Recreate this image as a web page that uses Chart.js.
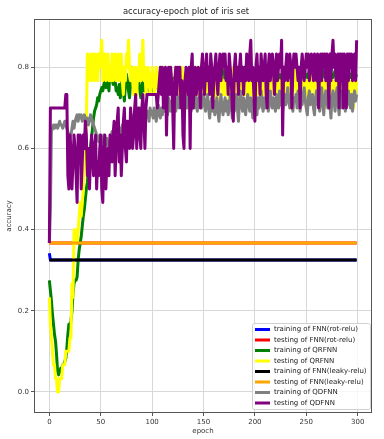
<!DOCTYPE html>
<html>
<head>
<meta charset="utf-8">
<script src="https://cdn.jsdelivr.net/npm/chart.js@4.4.1/dist/chart.umd.min.js"></script>
<style>
html, body { margin: 0; padding: 0; background: #fff; }
#wrap { width: 384px; height: 439px; }
</style>
</head>
<body>
<div id="wrap"><canvas id="accChart" width="384" height="439"></canvas></div>
<script>
const epochs = Array.from({ length: 300 }, (_, i) => i);
const xTicks = [0, 50, 100, 150, 200, 250, 300];
const yTicks = [0.0, 0.2, 0.4, 0.6, 0.8];

// the flat runs only need their break points
const fnnRotTrainEpochs = [0, 1, 299];
const fnnRotTrain = [0.342, 0.325, 0.325];
const fnnRotTestEpochs = [0, 299];
const fnnRotTest = [0.367, 0.367];
const fnnLeakyTrainEpochs = [0, 299];
const fnnLeakyTrain = [0.325, 0.325];
const fnnLeakyTestEpochs = [0, 299];
const fnnLeakyTest = [0.367, 0.367];

const qrfnnTrain = [
  0.275, 0.25, 0.225, 0.192, 0.167, 0.142, 0.125, 0.092, 0.05, 0.042,
  0.05, 0.058, 0.058, 0.067, 0.067, 0.075, 0.083, 0.108, 0.142, 0.167,
  0.158, 0.175, 0.2, 0.242, 0.267, 0.275, 0.275, 0.283, 0.325, 0.35,
  0.367, 0.383, 0.408, 0.433, 0.45, 0.475, 0.5, 0.517, 0.55, 0.583,
  0.6, 0.625, 0.65, 0.675, 0.692, 0.7, 0.708, 0.725, 0.717, 0.733,
  0.742, 0.75, 0.742, 0.758, 0.767, 0.75, 0.775, 0.758, 0.742, 0.792,
  0.8, 0.775, 0.758, 0.783, 0.767, 0.742, 0.75, 0.733, 0.758, 0.725,
  0.75, 0.775, 0.742, 0.717, 0.758, 0.783, 0.767, 0.742, 0.725, 0.758,
  0.8, 0.767, 0.742, 0.775, 0.733, 0.758, 0.792, 0.767, 0.742, 0.725,
  0.75, 0.767, 0.742, 0.758, 0.775, 0.75, 0.767, 0.742, 0.758, 0.775,
  0.758, 0.742, 0.767, 0.775, 0.75, 0.767, 0.783, 0.758, 0.742, 0.767,
  0.775, 0.758, 0.742, 0.767, 0.783, 0.75, 0.767, 0.758, 0.775, 0.742,
  0.758, 0.767, 0.775, 0.75, 0.742, 0.767, 0.783, 0.758, 0.767, 0.775,
  0.75, 0.758, 0.775, 0.767, 0.742, 0.758, 0.783, 0.775, 0.758, 0.767,
  0.775, 0.758, 0.767, 0.783, 0.758, 0.75, 0.775, 0.767, 0.758, 0.783,
  0.775, 0.767, 0.758, 0.783, 0.792, 0.767, 0.758, 0.775, 0.783, 0.767,
  0.758, 0.775, 0.783, 0.767, 0.775, 0.792, 0.767, 0.758, 0.775, 0.783,
  0.792, 0.767, 0.775, 0.758, 0.783, 0.775, 0.767, 0.783, 0.792, 0.775,
  0.767, 0.775, 0.783, 0.767, 0.758, 0.775, 0.783, 0.792, 0.775, 0.767,
  0.783, 0.775, 0.767, 0.792, 0.8, 0.775, 0.767, 0.783, 0.775, 0.767,
  0.775, 0.783, 0.767, 0.758, 0.775, 0.783, 0.775, 0.767, 0.792, 0.775,
  0.767, 0.783, 0.775, 0.758, 0.775, 0.783, 0.767, 0.775, 0.792, 0.775,
  0.783, 0.767, 0.775, 0.783, 0.775, 0.767, 0.783, 0.775, 0.792, 0.783,
  0.775, 0.783, 0.792, 0.783, 0.775, 0.783, 0.792, 0.783, 0.775, 0.783,
  0.792, 0.783, 0.775, 0.783, 0.792, 0.783, 0.775, 0.783, 0.775, 0.783,
  0.783, 0.775, 0.783, 0.792, 0.783, 0.775, 0.783, 0.775, 0.783, 0.792,
  0.783, 0.775, 0.783, 0.775, 0.783, 0.783, 0.792, 0.783, 0.775, 0.783,
  0.783, 0.775, 0.783, 0.792, 0.783, 0.783, 0.775, 0.783, 0.792, 0.783,
  0.775, 0.783, 0.783, 0.792, 0.783, 0.775, 0.783, 0.783, 0.775, 0.783,
  0.783, 0.792, 0.783, 0.775, 0.783, 0.783, 0.792, 0.783, 0.775, 0.783
];

const qrfnnTest = [
  0.233, 0.167, 0.133, 0.1, 0.067, 0.067, 0.033, 0.033, 0.0, 0.0,
  0.033, 0.033, 0.033, 0.067, 0.067, 0.067, 0.1, 0.1, 0.1, 0.1,
  0.133, 0.133, 0.267, 0.233, 0.4, 0.367, 0.4, 0.367, 0.4, 0.433,
  0.467, 0.433, 0.467, 0.5, 0.567, 0.6, 0.667, 0.833, 0.767, 0.8,
  0.833, 0.767, 0.8, 0.833, 0.767, 0.833, 0.8, 0.767, 0.833, 0.8,
  0.833, 0.867, 0.767, 0.8, 0.833, 0.767, 0.8, 0.833, 0.767, 0.8,
  0.767, 0.833, 0.767, 0.8, 0.833, 0.767, 0.8, 0.833, 0.767, 0.8,
  0.833, 0.767, 0.733, 0.8, 0.767, 0.833, 0.8, 0.867, 0.8, 0.767,
  0.8, 0.767, 0.733, 0.8, 0.767, 0.733, 0.8, 0.767, 0.833, 0.767,
  0.8, 0.867, 0.767, 0.8, 0.733, 0.767, 0.8, 0.767, 0.733, 0.767,
  0.8, 0.767, 0.733, 0.767, 0.8, 0.767, 0.733, 0.767, 0.8, 0.767,
  0.733, 0.767, 0.8, 0.767, 0.733, 0.767, 0.733, 0.767, 0.8, 0.767,
  0.733, 0.767, 0.733, 0.8, 0.767, 0.733, 0.767, 0.733, 0.767, 0.8,
  0.767, 0.733, 0.767, 0.733, 0.7, 0.767, 0.733, 0.767, 0.8, 0.733,
  0.767, 0.733, 0.767, 0.8, 0.733, 0.767, 0.733, 0.7, 0.767, 0.733,
  0.767, 0.733, 0.767, 0.733, 0.767, 0.8, 0.733, 0.767, 0.733, 0.767,
  0.733, 0.767, 0.733, 0.7, 0.767, 0.733, 0.767, 0.8, 0.767, 0.733,
  0.767, 0.733, 0.767, 0.733, 0.767, 0.7, 0.767, 0.733, 0.767, 0.8,
  0.733, 0.767, 0.733, 0.767, 0.733, 0.7, 0.767, 0.733, 0.767, 0.733,
  0.767, 0.733, 0.8, 0.767, 0.733, 0.767, 0.733, 0.767, 0.733, 0.7,
  0.767, 0.733, 0.767, 0.733, 0.767, 0.8, 0.767, 0.733, 0.767, 0.733,
  0.767, 0.733, 0.7, 0.767, 0.733, 0.767, 0.733, 0.767, 0.8, 0.767,
  0.733, 0.767, 0.733, 0.7, 0.767, 0.733, 0.767, 0.733, 0.767, 0.733,
  0.767, 0.733, 0.767, 0.733, 0.7, 0.767, 0.767, 0.733, 0.767, 0.8,
  0.767, 0.733, 0.767, 0.7, 0.767, 0.733, 0.767, 0.733, 0.767, 0.733,
  0.7, 0.767, 0.733, 0.767, 0.733, 0.767, 0.8, 0.767, 0.733, 0.767,
  0.733, 0.767, 0.7, 0.767, 0.733, 0.767, 0.733, 0.767, 0.7, 0.767,
  0.733, 0.767, 0.733, 0.767, 0.7, 0.733, 0.767, 0.733, 0.767, 0.733,
  0.767, 0.733, 0.767, 0.7, 0.767, 0.733, 0.767, 0.733, 0.767, 0.7,
  0.767, 0.733, 0.767, 0.733, 0.767, 0.733, 0.7, 0.767, 0.733, 0.767
];

const qdfnnTrain = [
  0.367, 0.45, 0.642, 0.65, 0.658, 0.65, 0.658, 0.658, 0.65, 0.658,
  0.667, 0.658, 0.658, 0.65, 0.658, 0.667, 0.658, 0.65, 0.642, 0.625,
  0.617, 0.633, 0.65, 0.667, 0.65, 0.667, 0.675, 0.683, 0.667, 0.683,
  0.675, 0.683, 0.667, 0.675, 0.683, 0.675, 0.667, 0.675, 0.658, 0.667,
  0.683, 0.675, 0.667, 0.658, 0.65, 0.642, 0.633, 0.625, 0.617, 0.633,
  0.608, 0.625, 0.617, 0.633, 0.617, 0.608, 0.625, 0.617, 0.6, 0.617,
  0.625, 0.642, 0.617, 0.633, 0.65, 0.625, 0.642, 0.617, 0.633, 0.65,
  0.625, 0.658, 0.642, 0.617, 0.65, 0.667, 0.633, 0.658, 0.642, 0.675,
  0.65, 0.667, 0.683, 0.658, 0.675, 0.692, 0.667, 0.683, 0.7, 0.675,
  0.683, 0.667, 0.692, 0.7, 0.675, 0.683, 0.692, 0.667, 0.7, 0.683,
  0.692, 0.675, 0.7, 0.683, 0.667, 0.692, 0.708, 0.683, 0.675, 0.7,
  0.683, 0.708, 0.692, 0.717, 0.7, 0.683, 0.725, 0.708, 0.692, 0.717,
  0.7, 0.725, 0.708, 0.692, 0.733, 0.717, 0.7, 0.725, 0.742, 0.708,
  0.717, 0.692, 0.733, 0.717, 0.7, 0.725, 0.742, 0.708, 0.692, 0.725,
  0.717, 0.7, 0.733, 0.708, 0.692, 0.725, 0.717, 0.742, 0.7, 0.717,
  0.733, 0.708, 0.692, 0.717, 0.733, 0.7, 0.675, 0.708, 0.725, 0.692,
  0.717, 0.683, 0.7, 0.725, 0.692, 0.667, 0.708, 0.733, 0.7, 0.683,
  0.708, 0.725, 0.692, 0.717, 0.683, 0.7, 0.733, 0.708, 0.675, 0.717,
  0.692, 0.708, 0.733, 0.7, 0.667, 0.717, 0.742, 0.708, 0.692, 0.725,
  0.7, 0.683, 0.717, 0.733, 0.708, 0.692, 0.725, 0.7, 0.675, 0.717,
  0.733, 0.708, 0.683, 0.725, 0.7, 0.717, 0.742, 0.708, 0.692, 0.725,
  0.7, 0.717, 0.733, 0.692, 0.708, 0.742, 0.717, 0.7, 0.725, 0.708,
  0.692, 0.733, 0.717, 0.7, 0.742, 0.708, 0.725, 0.692, 0.717, 0.733,
  0.708, 0.725, 0.75, 0.717, 0.7, 0.733, 0.708, 0.692, 0.725, 0.717,
  0.733, 0.7, 0.742, 0.717, 0.692, 0.725, 0.708, 0.733, 0.75, 0.717,
  0.7, 0.683, 0.725, 0.742, 0.708, 0.717, 0.733, 0.7, 0.683, 0.725,
  0.742, 0.708, 0.717, 0.692, 0.733, 0.75, 0.708, 0.683, 0.725, 0.742,
  0.717, 0.7, 0.733, 0.708, 0.675, 0.725, 0.742, 0.717, 0.692, 0.733,
  0.75, 0.708, 0.683, 0.725, 0.742, 0.7, 0.717, 0.733, 0.692, 0.725,
  0.708, 0.742, 0.717, 0.7, 0.733, 0.692, 0.725, 0.742, 0.717, 0.733
];

const qdfnnTest = [
  0.367, 0.7, 0.7, 0.7, 0.7, 0.7, 0.7, 0.7, 0.7, 0.7,
  0.7, 0.7, 0.7, 0.7, 0.7, 0.7, 0.733, 0.733, 0.533, 0.5,
  0.633, 0.6, 0.5, 0.567, 0.633, 0.6, 0.533, 0.467, 0.633, 0.6,
  0.633, 0.5, 0.567, 0.633, 0.6, 0.667, 0.633, 0.533, 0.6, 0.5,
  0.567, 0.633, 0.6, 0.533, 0.6, 0.633, 0.5, 0.567, 0.533, 0.6,
  0.633, 0.5, 0.467, 0.6, 0.633, 0.5, 0.567, 0.6, 0.533, 0.633,
  0.6, 0.567, 0.633, 0.667, 0.533, 0.6, 0.667, 0.7, 0.567, 0.633,
  0.533, 0.6, 0.667, 0.7, 0.6, 0.567, 0.667, 0.633, 0.6, 0.7,
  0.667, 0.6, 0.633, 0.7, 0.733, 0.6, 0.667, 0.7, 0.633, 0.6,
  0.7, 0.733, 0.667, 0.6, 0.7, 0.733, 0.733, 0.733, 0.733, 0.733,
  0.733, 0.733, 0.733, 0.733, 0.733, 0.7, 0.733, 0.767, 0.8, 0.733,
  0.8, 0.7, 0.767, 0.8, 0.633, 0.767, 0.8, 0.733, 0.8, 0.767,
  0.7, 0.6, 0.767, 0.8, 0.733, 0.8, 0.767, 0.8, 0.7, 0.767,
  0.633, 0.6, 0.767, 0.8, 0.767, 0.733, 0.8, 0.6, 0.8, 0.833,
  0.7, 0.767, 0.8, 0.733, 0.767, 0.8, 0.767, 0.7, 0.8, 0.833,
  0.767, 0.733, 0.8, 0.833, 0.767, 0.8, 0.733, 0.833, 0.8, 0.7,
  0.767, 0.8, 0.833, 0.767, 0.733, 0.8, 0.833, 0.767, 0.8, 0.833,
  0.8, 0.833, 0.767, 0.8, 0.733, 0.833, 0.8, 0.767, 0.7, 0.667,
  0.8, 0.833, 0.767, 0.8, 0.733, 0.8, 0.833, 0.767, 0.8, 0.733,
  0.8, 0.767, 0.833, 0.8, 0.767, 0.833, 0.867, 0.767, 0.8, 0.733,
  0.667, 0.8, 0.833, 0.767, 0.8, 0.733, 0.833, 0.8, 0.767, 0.8,
  0.833, 0.733, 0.7, 0.8, 0.833, 0.767, 0.8, 0.833, 0.8, 0.733,
  0.8, 0.833, 0.767, 0.8, 0.833, 0.8, 0.867, 0.633, 0.8, 0.767,
  0.8, 0.833, 0.767, 0.8, 0.833, 0.8, 0.7, 0.8, 0.833, 0.8,
  0.833, 0.8, 0.767, 0.8, 0.7, 0.8, 0.833, 0.8, 0.767, 0.8,
  0.833, 0.8, 0.833, 0.767, 0.8, 0.833, 0.8, 0.767, 0.833, 0.8,
  0.767, 0.833, 0.7, 0.8, 0.833, 0.767, 0.833, 0.8, 0.833, 0.767,
  0.833, 0.8, 0.7, 0.833, 0.767, 0.833, 0.867, 0.8, 0.833, 0.767,
  0.8, 0.833, 0.7, 0.833, 0.767, 0.833, 0.7, 0.833, 0.8, 0.7,
  0.833, 0.767, 0.833, 0.8, 0.833, 0.767, 0.8, 0.833, 0.767, 0.867
];

const pts = (xs, ys) => xs.map((x, i) => ({ x: x, y: ys[i] }));
const seq = ys => epochs.map((x, i) => ({ x: x, y: ys[i] }));

function line(label, color, data, i) {
  return {
    label: label,
    data: data,
    borderColor: color,
    backgroundColor: color,
    borderWidth: 3,
    pointRadius: 0,
    tension: 0,
    fill: false,
    borderJoinStyle: 'round',
    order: 8 - i   // later series on top, like matplotlib
  };
}

const datasets = [
  line('training of FNN(rot-relu)', '#0000ff', pts(fnnRotTrainEpochs, fnnRotTrain), 0),
  line('testing of FNN(rot-relu)', '#ff0000', pts(fnnRotTestEpochs, fnnRotTest), 1),
  line('training of QRFNN', '#008000', seq(qrfnnTrain), 2),
  line('testing of QRFNN', '#ffff00', seq(qrfnnTest), 3),
  line('training of FNN(leaky-relu)', '#000000', pts(fnnLeakyTrainEpochs, fnnLeakyTrain), 4),
  line('testing of FNN(leaky-relu)', '#ffa500', pts(fnnLeakyTestEpochs, fnnLeakyTest), 5),
  line('training of QDFNN', '#808080', seq(qdfnnTrain), 6),
  line('testing of QDFNN', '#800080', seq(qdfnnTest), 7)
];

const FONT = '"DejaVu Sans", sans-serif';

// matplotlib style frame and legend box in the lower right corner
const frameAndLegend = {
  id: 'frameAndLegend',
  afterDatasetsDraw(chart) {
    const ctx = chart.ctx, a = chart.chartArea;
    ctx.save();
    ctx.strokeStyle = '#555';
    ctx.lineWidth = 1;
    ctx.strokeRect(Math.round(a.left) + 0.5, Math.round(a.top) + 0.5,
      Math.round(a.right - a.left) - 1, Math.round(a.bottom - a.top) - 1);
    ctx.restore();
  },
  afterDraw(chart) {
    const ctx = chart.ctx, a = chart.chartArea;
    const sets = chart.data.datasets;
    const rowH = 10.5, w = 118, h = 86;
    const x0 = Math.round(a.right - 2.5 - w), y0 = Math.round(a.bottom - 4 - h);
    ctx.save();
    ctx.fillStyle = 'rgba(255,255,255,0.8)';
    ctx.strokeStyle = '#d0d0d0';
    ctx.lineWidth = 1;
    ctx.beginPath();
    ctx.roundRect(x0 + 0.5, y0 + 0.5, w, h, 2);
    ctx.fill();
    ctx.stroke();
    ctx.font = '7px ' + FONT;
    ctx.textBaseline = 'middle';
    ctx.textAlign = 'left';
    sets.forEach((ds, i) => {
      const y = y0 + 6.5 + i * rowH;
      ctx.strokeStyle = ds.borderColor;
      ctx.lineWidth = 3;
      ctx.beginPath();
      ctx.moveTo(x0 + 3, y);
      ctx.lineTo(x0 + 18, y);
      ctx.stroke();
      ctx.fillStyle = '#222';
      ctx.fillText(ds.label, x0 + 22, y);
    });
    ctx.restore();
  }
};

new Chart(document.getElementById('accChart'), {
  type: 'line',
  data: { labels: epochs, datasets: datasets },
  plugins: [frameAndLegend],
  options: {
    responsive: false,
    animation: false,
    devicePixelRatio: 1,
    layout: { padding: { left: 0, right: 12, top: 0, bottom: 0 } },
    plugins: {
      legend: { display: false },
      tooltip: { enabled: false },
      title: {
        display: true,
        text: 'accuracy-epoch plot of iris set',
        color: '#222',
        font: { family: FONT, size: 8.4, weight: 'normal' },
        padding: { top: 7, bottom: 2 }
      }
    },
    scales: {
      x: {
        type: 'linear',
        min: -14.95,
        max: 313.95,
        afterBuildTicks: s => { s.ticks = xTicks.map(v => ({ value: v })); },
        afterFit: s => { s.height = 26; },
        ticks: {
          color: '#333',
          font: { family: FONT, size: 7 },
          padding: 1.5,
          maxRotation: 0,
          callback: v => String(v)
        },
        grid: { color: '#d8d8d8', lineWidth: 1, tickLength: 3, tickColor: '#555' },
        border: { display: false },
        title: {
          display: true,
          text: 'epoch',
          color: '#333',
          font: { family: FONT, size: 7 },
          padding: { top: 0, bottom: 4 }
        }
      },
      y: {
        min: -0.052,
        max: 0.919,
        afterBuildTicks: s => { s.ticks = yTicks.map(v => ({ value: v })); },
        afterFit: s => { s.width = 34; },
        ticks: {
          color: '#333',
          font: { family: FONT, size: 7 },
          padding: 2,
          callback: v => v.toFixed(1)
        },
        grid: { color: '#d8d8d8', lineWidth: 1, tickLength: 3, tickColor: '#555' },
        border: { display: false },
        title: {
          display: true,
          text: 'accuracy',
          color: '#333',
          font: { family: FONT, size: 7 },
          padding: { top: 5, bottom: 0 }
        }
      }
    }
  }
});
</script>
</body>
</html>
